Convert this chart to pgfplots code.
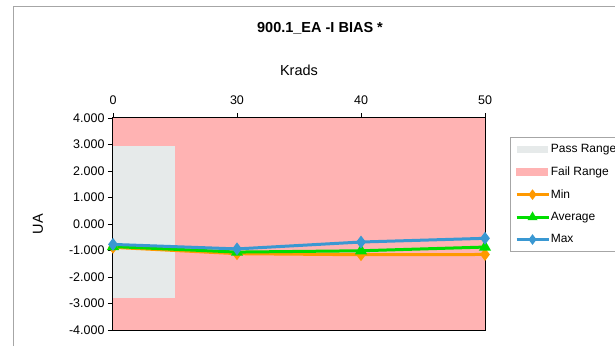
\documentclass[border=0pt]{standalone}
\usepackage{pgfplots}
\pgfplotsset{compat=1.18}
\usepackage{fontspec}
\setmainfont{Liberation Sans}
\definecolor{passgray}{RGB}{230,234,234}
\definecolor{failpink}{RGB}{255,179,179}
\definecolor{minorange}{RGB}{255,153,0}
\definecolor{avggreen}{RGB}{0,222,0}
\definecolor{maxblue}{RGB}{58,152,210}
\pgfplotsset{
  lineleg/.style={legend image code/.code={\draw[##1, line width=2.6pt, mark size=3.2pt, mark repeat=2, mark phase=2] plot coordinates {(0pt,0pt) (16pt,0pt) (32pt,0pt)};}},
  passleg/.style={legend image code/.code={\fill[passgray] (0pt,-3.5pt) rectangle (31pt,3.5pt);}},
  failleg/.style={legend image code/.code={\fill[failpink] (0pt,-3.5pt) rectangle (31pt,3.5pt);}},
}
\begin{document}
\begin{tikzpicture}
\useasboundingbox (0pt,0pt) rectangle (615pt,346pt);
\fill[white] (0pt,0pt) rectangle (615pt,346pt);
\draw[gray!70, line width=0.8pt] (13pt,0pt) -- (13pt,340pt) -- (620pt,340pt);
\node[font=\fontsize{14.5}{17}\selectfont\bfseries] at (320pt,318pt) {900.1\_EA -I BIAS *};
\node[font=\fontsize{14.5}{16}\selectfont] at (299pt,276pt) {Krads};
\begin{axis}[
  at={(113pt,16pt)}, anchor=south west,
  scale only axis, width=372pt, height=212pt,
  xmin=0, xmax=3, ymin=-4, ymax=4,
  xtick={0,1,2,3}, xticklabels={0,30,40,50},
  ytick={-4,-3,-2,-1,0,1,2,3,4},
  yticklabels={-4.000,-3.000,-2.000,-1.000,0.000,1.000,2.000,3.000,4.000},
  xtick pos=right, xticklabel pos=right, ytick pos=left,
  tick align=outside, major tick length=5pt,
  tick style={black, line width=0.6pt},
  axis line style={black, line width=1.4pt},
  ticklabel style={font=\fontsize{12.5}{14}\selectfont},
  xticklabel style={yshift=5pt},
  ylabel={UA},
  ylabel style={font=\fontsize{14.5}{16}\selectfont, at={(axis description cs:-0.2016,0.5)}, anchor=center},
  legend style={at={(axis description cs:1.067,0.91)}, anchor=north west,
    draw=gray!70, line width=0.6pt, font=\fontsize{12}{14}\selectfont,
    row sep=8.6pt, inner xsep=5pt, inner ysep=5pt, legend cell align=left,
    nodes={inner xsep=1pt}},
  clip=false,
]
\addplot[fill=failpink, draw=none, forget plot] coordinates {(0,-4) (0,4) (3,4) (3,-4)} -- cycle;
\addplot[fill=passgray, draw=none, passleg]
  coordinates {(0,-2.8) (0,2.95) (0.5,2.95) (0.5,-2.8)} -- cycle;
\addlegendentry{Pass Range}
\addlegendimage{failleg}
\addlegendentry{Fail Range}
\addplot[minorange, line width=3pt, mark=diamond*, mark size=4pt, mark options={solid}, lineleg]
  coordinates {(0,-0.88) (1,-1.12) (2,-1.16) (3,-1.15)};
\addlegendentry{Min}
\addplot[avggreen, line width=3pt, mark=triangle*, mark size=4pt, mark options={solid}, lineleg]
  coordinates {(0,-0.85) (1,-1.06) (2,-1.01) (3,-0.87)};
\addlegendentry{Average}
\addplot[maxblue, line width=3pt, mark=diamond*, mark size=4pt, mark options={solid}, lineleg]
  coordinates {(0,-0.77) (1,-0.94) (2,-0.68) (3,-0.54)};
\addlegendentry{Max}
\end{axis}
\end{tikzpicture}
\end{document}
